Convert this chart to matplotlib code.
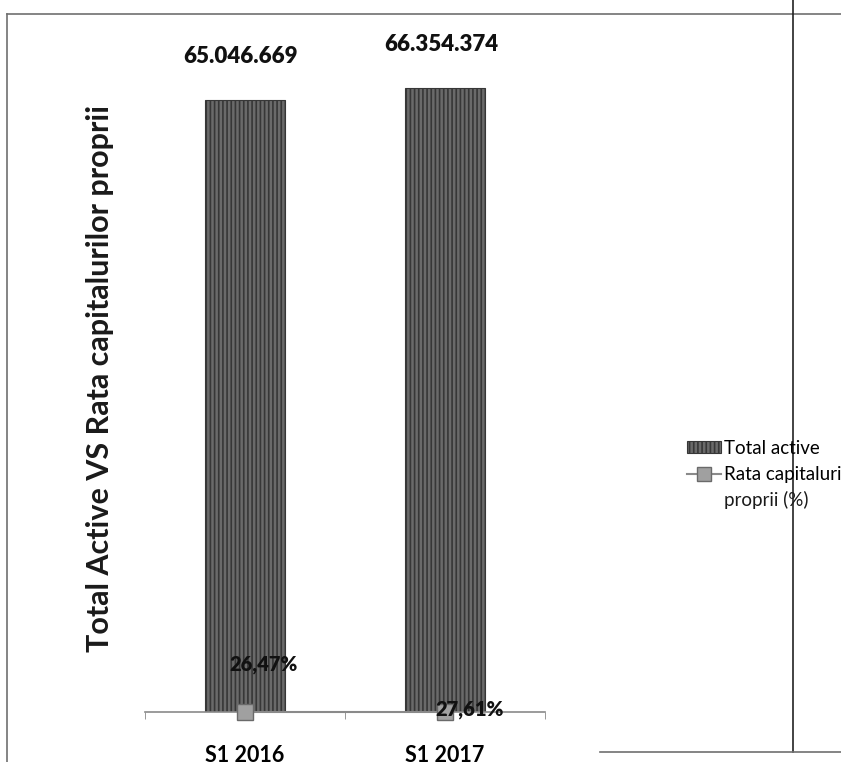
import matplotlib
matplotlib.use("Agg")
import matplotlib.pyplot as plt
from matplotlib.lines import Line2D
from matplotlib.patches import Patch

# ── Data ─────────────────────────────────────────────────────────────────────
CATEGORIES = ["S1 2016", "S1 2017"]
TOTAL_ACTIVE = [65046669, 66354374]
RATA_CAP = [26.47, 27.61]          # %, plotted on the primary scale (sits at ~0)
RATA_LABELS = ["26,47%", "27,61%"]
Y_LABEL = "Total Active VS Rata capitalurilor proprii"
LEGEND_LABELS = ["Total active", "Rata capitalurilor"]
LEGEND_WRAP = "proprii (%)"

BAR_FACE = "#6a6a6a"
BAR_HATCH = "#373737"
MARKER_FACE = "#a0a0a0"
MARKER_EDGE = "#6a6a6a"

plt.rcParams["font.family"] = ["Lato", "DejaVu Sans"]
plt.rcParams["hatch.linewidth"] = 1.2

W, H = 841, 762
fig = plt.figure(figsize=(W / 100, H / 100), dpi=100)
ax = fig.add_axes([145 / W, 1 - 712 / H, 400 / W, 658.6 / H])

x = list(range(len(CATEGORIES)))
bars = ax.bar(x, TOTAL_ACTIVE, width=0.4, color=BAR_FACE, edgecolor=BAR_HATCH,
              hatch="||||", linewidth=0.8, zorder=2)

# value labels above bars (Romanian thousands separator)
for b, v in zip(bars, TOTAL_ACTIVE):
    ax.annotate(f"{v:,}".replace(",", "."), (b.get_x() + b.get_width() / 2, v),
                xytext=(-3, 31), textcoords="offset points", ha="center",
                va="center", fontsize=16, fontweight="heavy", color="#111111",
                annotation_clip=False)

# percentage series, drawn on the same scale -> lies on the axis
ax.plot(x, RATA_CAP, color="#8a8a8a", linewidth=1.5, marker="s", markersize=12,
        markerfacecolor=MARKER_FACE, markeredgecolor=MARKER_EDGE, zorder=5,
        clip_on=False)
for xi, yi, lab, off in zip(x, RATA_CAP, RATA_LABELS, [(13, 34), (18, 2)]):
    ax.annotate(lab, (xi, yi), xytext=off, textcoords="offset points",
                ha="center", va="center", fontsize=14.5, fontweight="heavy",
                color="#111111", zorder=6, annotation_clip=False)

ax.set_xlim(-0.5, 1.5)
ax.set_ylim(0, 70e6)
ax.set_xticks(x)
ax.set_xticklabels(CATEGORIES, fontsize=15.5, fontweight="bold")
ax.set_xticks([-0.5, 0.5, 1.5], minor=True)
ax.tick_params(axis="x", which="major", length=0, pad=24)
ax.tick_params(axis="x", which="minor", length=5, color="#888888", direction="out")
ax.set_yticks([])
for s in ["top", "right", "left"]:
    ax.spines[s].set_visible(False)
ax.spines["bottom"].set_color("#8a8a8a")
ax.spines["bottom"].set_linewidth(1.2)

fig.text(100 / W, 1 - 378 / H, Y_LABEL, rotation=90, ha="center", va="center",
         fontsize=22, fontweight="bold", color="#1a1a1a")

handles = [
    Patch(facecolor=BAR_FACE, edgecolor=BAR_HATCH, hatch="||||", linewidth=0.8),
    Line2D([0], [0], color="#8a8a8a", linewidth=1.5, marker="s", markersize=10,
           markerfacecolor=MARKER_FACE, markeredgecolor=MARKER_EDGE),
]
leg = fig.legend(handles, LEGEND_LABELS, loc="upper left",
                 bbox_to_anchor=(687 / W, 1 - 440 / H), frameon=False,
                 fontsize=13.5, handlelength=1.8, handleheight=0.6,
                 handletextpad=0.15, labelspacing=0.5, borderpad=0,
                 borderaxespad=0)
# second line of the wrapped legend label, left-aligned under the first
fig.canvas.draw()
t = leg.get_texts()[1]
bb = t.get_window_extent()
fig.text(bb.x0 / W, (bb.y0 - 26) / H, LEGEND_WRAP, ha="left", va="bottom",
         fontsize=13.5, color="#1a1a1a")

# scanned page frame lines
frame = dict(transform=fig.transFigure, color="#6f6f6f", linewidth=1.2)
fig.add_artist(Line2D([7 / W, 1], [1 - 14 / H, 1 - 14 / H], **frame))
fig.add_artist(Line2D([7 / W, 7 / W], [0, 1 - 14 / H], **frame))
fig.add_artist(Line2D([793 / W, 793 / W], [1 - 752 / H, 1], transform=fig.transFigure,
                      color="#222222", linewidth=1.2))
fig.add_artist(Line2D([600 / W, 1], [1 - 752 / H, 1 - 752 / H], **frame))

fig.savefig("out.png", dpi=100)
